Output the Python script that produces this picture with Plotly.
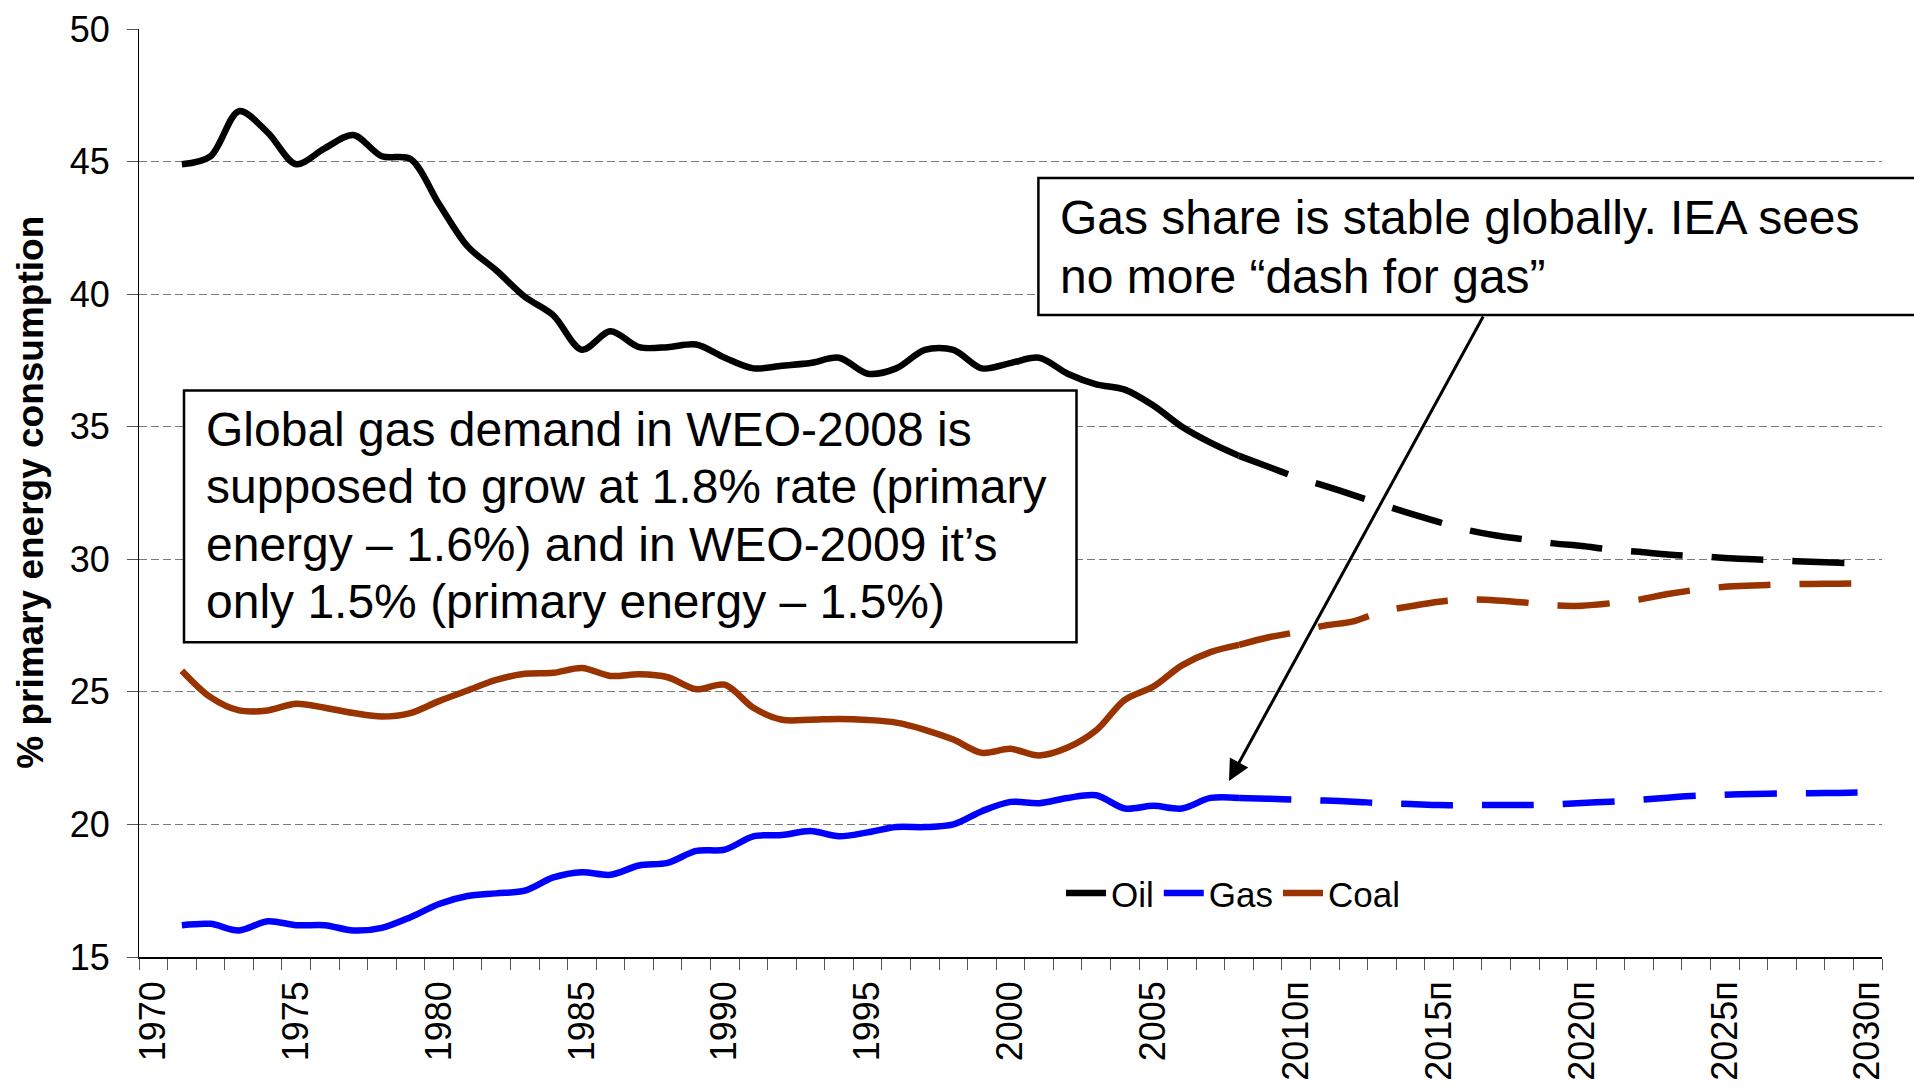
import plotly.graph_objects as go

# ---------------- data ----------------
years = list(range(1970, 2031))
categories = [str(y) if y <= 2008 else f"{y}п" for y in years]
tick_labels = [c if y % 5 == 0 else "" for y, c in zip(years, categories)]

hist_years = list(range(1971, 2009))
proj_years = list(range(2008, 2031))

oil_hist = [44.9, 45.2, 46.9, 46.1, 44.9, 45.5, 46.0, 45.2, 45.1, 43.4,
            41.8, 40.9, 39.9, 39.2, 37.9, 38.6, 38.0, 38.0, 38.1, 37.6,
            37.2, 37.3, 37.4, 37.6, 37.0, 37.2, 37.9, 37.9, 37.2, 37.4,
            37.6, 37.0, 36.6, 36.4, 35.8, 35.0, 34.4, 33.9]
oil_proj = [33.9, 33.5, 33.1, 32.77, 32.42, 32.06, 31.72, 31.4, 31.1, 30.9,
            30.75, 30.6, 30.5, 30.37, 30.28, 30.18, 30.12, 30.05, 30.0, 29.95,
            29.91, 29.87, 29.84]

gas_hist = [16.2, 16.25, 16.0, 16.35, 16.2, 16.2, 16.0, 16.1, 16.5, 17.0,
            17.3, 17.4, 17.5, 18.0, 18.2, 18.1, 18.45, 18.55, 19.0, 19.05,
            19.55, 19.6, 19.75, 19.55, 19.7, 19.9, 19.9, 20.0, 20.5, 20.85,
            20.8, 21.0, 21.1, 20.6, 20.7, 20.6, 21.0, 21.0]
gas_proj = [21.0, 20.97, 20.93, 20.9, 20.86, 20.8, 20.77, 20.73, 20.73, 20.73,
            20.73, 20.75, 20.81, 20.86, 20.93, 21.01, 21.08, 21.12, 21.15, 21.17,
            21.18, 21.19, 21.21]

coal_hist = [25.8, 24.8, 24.3, 24.3, 24.55, 24.4, 24.2, 24.07, 24.2, 24.65,
             25.05, 25.45, 25.68, 25.72, 25.9, 25.6, 25.66, 25.55, 25.1, 25.27,
             24.4, 23.95, 23.95, 23.98, 23.94, 23.84, 23.57, 23.2, 22.7, 22.85,
             22.6, 22.9, 23.55, 24.7, 25.2, 26.0, 26.5, 26.77]
coal_proj = [26.77, 27.05, 27.25, 27.5, 27.66, 28.03, 28.23, 28.4, 28.48, 28.45,
             28.37, 28.26, 28.25, 28.34, 28.48, 28.69, 28.85, 28.96, 29.01, 29.05,
             29.07, 29.08, 29.1]

series = [
    ("Oil", "#000000", oil_hist, oil_proj),
    ("Gas", "#0000FF", gas_hist, gas_proj),
    ("Coal", "#993300", coal_hist, coal_proj),
]

def cat(y):
    return str(y) if y <= 2008 else f"{y}п"

FONT = "Liberation Sans, Arial, sans-serif"
W, H = 1914, 1087
L, R, T, B = 139, 32, 29, 130

def px(x):
    return (x - L) / (W - L - R)

def py(y):
    return (H - B - y) / (H - T - B)

fig = go.Figure()
for name, color, hv, pv in series:
    fig.add_trace(go.Scatter(
        x=[cat(y) for y in hist_years], y=hv, name=name, mode="lines",
        line=dict(color=color, width=6.5, shape="spline", smoothing=0.9),
        showlegend=True,
    ))
for name, color, hv, pv in series:
    fig.add_trace(go.Scatter(
        x=[cat(y) for y in proj_years], y=pv, name=name + " (прогноз)", mode="lines",
        line=dict(color=color, width=6.5, shape="spline", smoothing=0.9, dash="52px,29px"),
        showlegend=False,
    ))

shapes = [
    dict(type="rect", xref="paper", yref="paper", layer="above",
         x0=px(184), x1=px(1076.5), y0=py(642.2), y1=py(390.5),
         line=dict(color="black", width=2.5), fillcolor="white"),
    dict(type="rect", xref="paper", yref="paper", layer="above",
         x0=px(1038.4), x1=px(1940), y0=py(315), y1=py(178),
         line=dict(color="black", width=2.5), fillcolor="white"),
]

box1_lines = ["Global gas demand in WEO-2008 is",
              "supposed to grow at 1.8% rate (primary",
              "energy – 1.6%) and in WEO-2009 it’s",
              "only 1.5% (primary energy – 1.5%)"]
box1_y = [429.6, 486.8, 544.0, 601.2]
box2_lines = ["Gas share is stable globally. IEA sees",
              "no more “dash for gas”"]
box2_y = [217.1, 276.1]

annotations = []
for t, yy in zip(box1_lines, box1_y):
    annotations.append(dict(text=t, xref="paper", yref="paper", x=px(203.5), y=py(yy),
                            xanchor="left", yanchor="middle", showarrow=False,
                            font=dict(family=FONT, size=48, color="black")))
for t, yy in zip(box2_lines, box2_y):
    annotations.append(dict(text=t, xref="paper", yref="paper", x=px(1058), y=py(yy),
                            xanchor="left", yanchor="middle", showarrow=False,
                            font=dict(family=FONT, size=48, color="black")))
annotations.append(dict(text="", xref="paper", yref="paper", x=px(1229), y=py(781),
                        ax=255, ay=-466, showarrow=True, arrowhead=2, arrowsize=1.4,
                        arrowwidth=3, arrowcolor="black"))
annotations.append(dict(text="<b>% primary energy consumption</b>", xref="paper", yref="paper",
                        x=px(31), y=py(492.8), xanchor="center", yanchor="middle",
                        textangle=-90, showarrow=False,
                        font=dict(family=FONT, size=37, color="black")))

fig.update_layout(
    width=W, height=H,
    margin=dict(l=L, r=R, t=T, b=B, autoexpand=False),
    paper_bgcolor="white", plot_bgcolor="white",
    font=dict(family=FONT, color="black"),
    shapes=shapes, annotations=annotations,
    legend=dict(orientation="h", x=px(1233), y=py(893.3), xanchor="center", yanchor="middle",
                font=dict(family=FONT, size=35), bgcolor="rgba(0,0,0,0)",
                itemwidth=40, tracegroupgap=0),
    xaxis=dict(type="category", categoryorder="array", categoryarray=categories,
               range=[-0.5, len(categories) - 0.5],
               tickmode="array", tickvals=categories, ticktext=tick_labels,
               tickson="boundaries", ticks="outside", ticklen=11, tickwidth=1,
               tickcolor="#555555", tickangle=-90,
               tickfont=dict(family=FONT, size=36), ticklabelstandoff=8,
               showline=True, linecolor="black", linewidth=1.5,
               showgrid=False, zeroline=False, automargin=False),
    yaxis=dict(range=[15, 50], tickmode="linear", tick0=15, dtick=5,
               ticks="outside", ticklen=11, tickwidth=1, tickcolor="#555555",
               tickfont=dict(family=FONT, size=36), ticklabelstandoff=10,
               showline=True, linecolor="black", linewidth=1,
               showgrid=True, gridcolor="#7a7a7a", gridwidth=1, griddash="8px,4px",
               zeroline=False, automargin=False),
)

fig.write_html("out.html", config={"displayModeBar": False},
               post_script="document.body.style.margin='0';document.body.style.overflow='hidden';")
